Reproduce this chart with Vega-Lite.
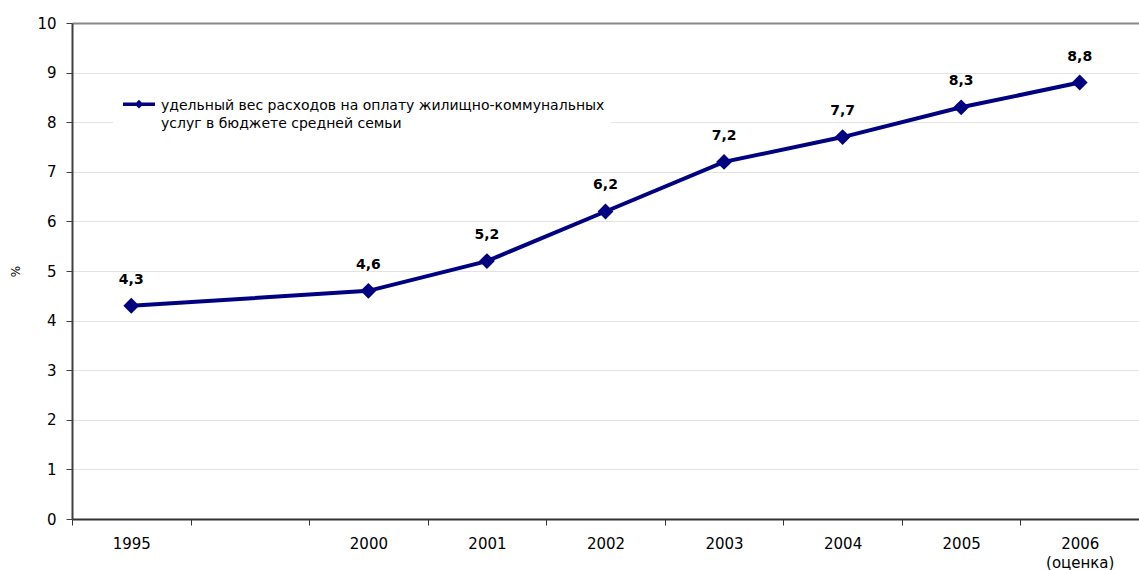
{
  "$schema": "https://vega.github.io/schema/vega-lite/v6.json",
  "autosize": "none",
  "padding": {"left": 72, "top": 23, "right": 0, "bottom": 51},
  "width": 1067,
  "height": 496,
  "background": "white",
  "config": {"view": {"stroke": null}, "font": "DejaVu Sans"},
  "data": {
    "values": [
      {"year": "1995", "value": 4.3, "label": "4,3", "series": "s"},
      {"year": "2000", "value": 4.6, "label": "4,6", "series": "s"},
      {"year": "2001", "value": 5.2, "label": "5,2", "series": "s"},
      {"year": "2002", "value": 6.2, "label": "6,2", "series": "s"},
      {"year": "2003", "value": 7.2, "label": "7,2", "series": "s"},
      {"year": "2004", "value": 7.7, "label": "7,7", "series": "s"},
      {"year": "2005", "value": 8.3, "label": "8,3", "series": "s"},
      {"year": "2006", "value": 8.8, "label": "8,8", "series": "s"}
    ]
  },
  "encoding": {
    "x": {
      "field": "year",
      "type": "ordinal",
      "scale": {"type": "band", "domain": ["1995", "gap", "2000", "2001", "2002", "2003", "2004", "2005", "2006"], "paddingInner": 0, "paddingOuter": 0},
      "axis": {
        "title": null,
        "tickBand": "extent",
        "labelAngle": 0,
        "labelExpr": "datum.value == '2006' ? ['2006', '(оценка)'] : (datum.value == 'gap' ? '' : datum.value)",
        "domainColor": "#333333",
        "domainWidth": 2,
        "tickColor": "#333333",
        "tickSize": 6,
        "labelPadding": 11,
        "labelFontSize": 15,
        "labelColor": "#000000",
        "labelLineHeight": 19,
        "grid": false
      }
    },
    "y": {
      "field": "value",
      "type": "quantitative",
      "scale": {"domain": [0, 10], "nice": false},
      "axis": {
        "title": "%",
        "titleFontSize": 12,
        "titleFontWeight": "normal",
        "titleColor": "#000000",
        "titlePadding": 14,
        "values": [0, 1, 2, 3, 4, 5, 6, 7, 8, 9, 10],
        "grid": true,
        "gridColor": {"condition": {"test": "datum.value === 10", "value": "#888888"}, "value": "#e3e3e3"},
        "gridWidth": {"condition": {"test": "datum.value === 10", "value": 2}, "value": 1},
        "domainColor": "#404040",
        "domainWidth": 2,
        "tickColor": "#404040",
        "tickSize": 6,
        "labelPadding": 10,
        "labelFontSize": 15,
        "labelColor": "#000000"
      }
    }
  },
  "layer": [
    {"mark": {"type": "line", "color": "#000080", "strokeWidth": 4}},
    {
      "mark": {"type": "point", "shape": "diamond", "filled": true, "size": 250, "opacity": 1},
      "encoding": {
        "color": {
          "field": "series",
          "type": "nominal",
          "scale": {"range": ["#000080"]},
          "legend": {
            "orient": "none",
            "legendX": 41,
            "legendY": 57,
            "title": null,
            "fillColor": "white",
            "padding": 6,
            "symbolType": "M-0.8,-0.175H0.8V-0.005H-0.8Z M0,-0.31L0.22,-0.09L0,0.13L-0.22,-0.09Z",
            "symbolSize": 1600,
            "symbolOpacity": 1,
            "symbolStrokeWidth": 0,
            "labelFontSize": 14,
            "labelColor": "#000000",
            "labelLimit": 0,
            "labelOffset": 2,
            "labelExpr": "['удельный вес расходов на оплату жилищно-коммунальных', 'услуг в бюджете средней семьи']",
            "encode": {"labels": {"update": {"lineHeight": {"value": 18}}}}
          }
        }
      }
    },
    {
      "mark": {"type": "text", "dy": -26, "fontWeight": "bold", "fontSize": 14, "color": "#000000"},
      "encoding": {"text": {"field": "label"}}
    }
  ]
}
